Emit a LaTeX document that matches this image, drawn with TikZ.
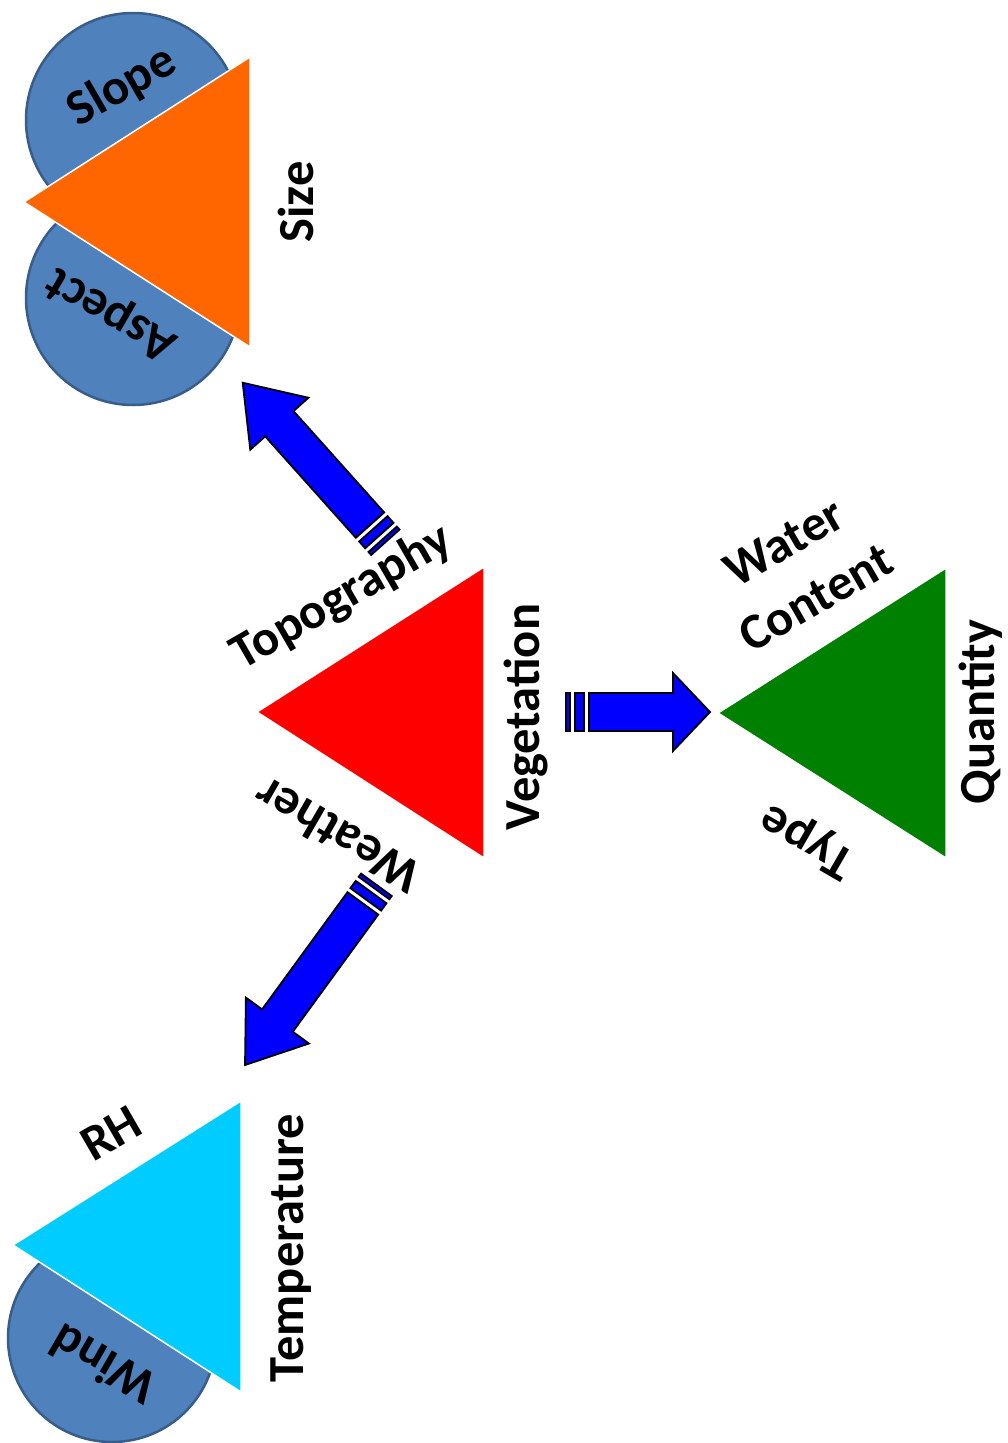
\documentclass[tikz,border=0pt]{standalone}
\usepackage{fontspec}
\setmainfont{Carlito}
\usepackage{xcolor}
\usepackage{tikz}
\usetikzlibrary{calc}

\definecolor{discblue}{HTML}{4F81BD}
\definecolor{discedge}{HTML}{385D8A}
\definecolor{topoorange}{HTML}{FF6600}
\definecolor{vegred}{HTML}{FF0000}
\definecolor{vegetgreen}{HTML}{008000}
\definecolor{wxcyan}{HTML}{00CCFF}

\tikzset{
  lbl/.style={font=\bfseries\fontsize{50.5}{64}\selectfont, inner sep=0pt, align=center},
  tri/.style={draw=white, line width=1.5pt, line join=miter},
  disc/.style={fill=discblue, draw=discedge, line width=2.5pt},
  stripe/.style={draw=black, fill=blue, line width=1.8pt, line join=miter},
}

% block arrow with two stripes at its tail: tail, angle, length, head length
\newcommand{\stripedarrow}[4]{%
  \begin{scope}[shift={(#1)}, rotate=#2]
    \draw[stripe] (1,-19) rectangle (5,19);
    \draw[stripe] (10,-19) rectangle (19,19);
    \draw[stripe] (24,-19) -- ({#3-#4},-19) -- ({#3-#4},-39) -- (#3,0)
      -- ({#3-#4},39) -- ({#3-#4},19) -- (24,19) -- cycle;
  \end{scope}}

\begin{document}
\begin{tikzpicture}[x=1pt,y=-1pt]
    \useasboundingbox (0,0) rectangle (1007,1443);

    % Discs behind the triangles
    \coordinate (slope c) at (133,120);
    \coordinate (aspect c) at (133,298);
    \coordinate (wind c) at (112,1338);
    \draw[disc] (slope c) circle (107);
    \draw[disc] (aspect c) circle (107);
    \draw[disc] (wind c) circle (104);

    % Triangles
    \draw[tri, fill=topoorange] (250,57) -- (250,347) -- (24,202) -- cycle;
    \draw[tri, fill=vegred] (484,567) -- (484,858) -- (257,712) -- cycle;
    \draw[tri, fill=vegetgreen] (946,568) -- (946,858) -- (718,713) -- cycle;
    \draw[tri, fill=wxcyan] (241,1101) -- (241,1392) -- (13,1245) -- cycle;

    % Arrows out of the vegetation triangle
    \coordinate (topo tail) at (386,543);
    \coordinate (veg tail) at (565,712);
    \coordinate (wx tail) at (377,884);
    \stripedarrow{topo tail}{131.8}{215}{55}
    \stripedarrow{veg tail}{0}{145}{37}
    \stripedarrow{wx tail}{233.9}{224}{55}

    % Labels
    \node[lbl, rotate=30] (slope) at (122,87) {Slope};
    \node[lbl, rotate=150] (aspect) at (112,313) {Aspect};
    \node[lbl, rotate=90] (size) at (296,202) {Size};
    \node[lbl, rotate=30] (topo) at (342,598) {Topography};
    \node[lbl, rotate=90] (veg) at (526,717) {Vegetation};
    \node[lbl, rotate=150] (wx) at (337,836) {Weather};
    \node[lbl, rotate=30] (water) at (800,570) {Water\\Content};
    \node[lbl, rotate=90] (qty) at (981,712) {Quantity};
    \node[lbl, rotate=150] (type) at (808,840) {Type};
    \node[lbl, rotate=30] (rh) at (111,1133) {RH};
    \node[lbl, rotate=90] (temp) at (291,1248) {Temperature};
    \node[lbl, rotate=150] (wind) at (103,1365) {Wind};
\end{tikzpicture}
\end{document}
